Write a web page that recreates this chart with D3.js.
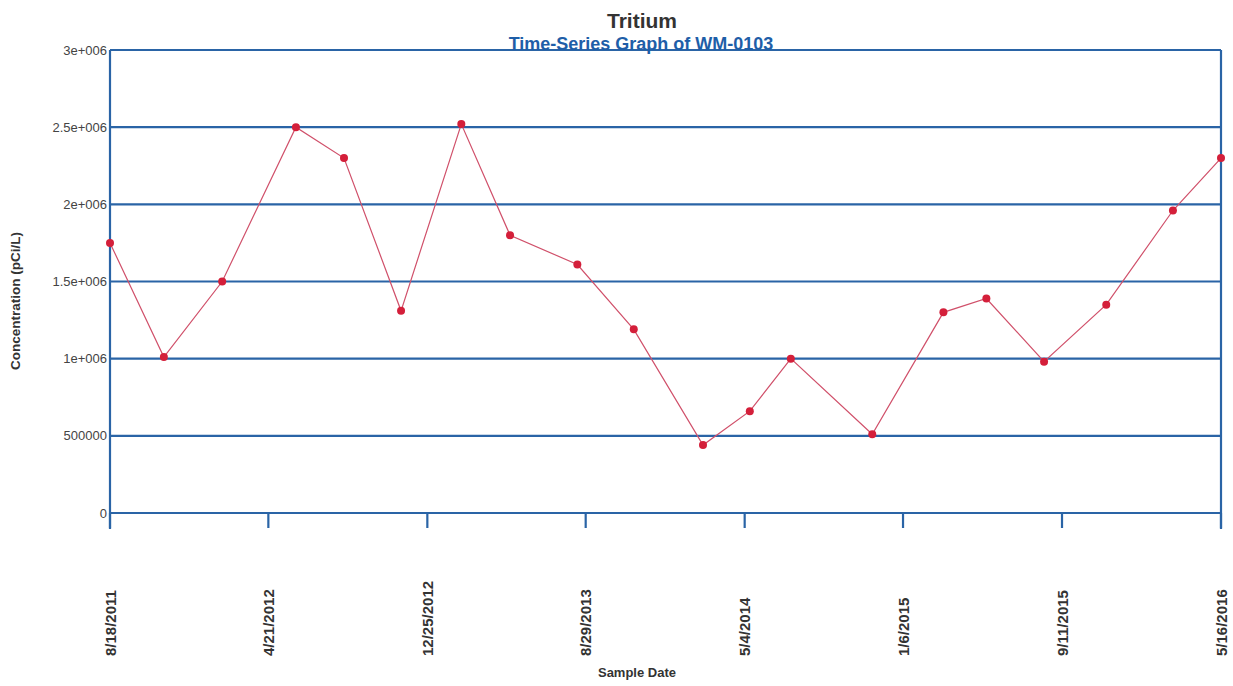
<!DOCTYPE html>
<html>
<head>
<meta charset="utf-8">
<script src="https://cdn.jsdelivr.net/npm/d3@7"></script>
<style>
  html, body { margin: 0; padding: 0; background: #fff; }
  svg { display: block; font-family: "Liberation Sans", Arial, sans-serif; }
</style>
</head>
<body>
<svg id="chart" width="1233" height="686"></svg>
<script>
// ---- data ----
const sampleDates = [
  "2011-08-18", "2011-11-10", "2012-02-09", "2012-06-03", "2012-08-17",
  "2012-11-14", "2013-02-16", "2013-05-03", "2013-08-16", "2013-11-12",
  "2014-02-28", "2014-05-12", "2014-07-15", "2014-11-19", "2015-03-10",
  "2015-05-16", "2015-08-14", "2015-11-19", "2016-03-02", "2016-05-16"
];
const tritiumValues = [
  1750000, 1010000, 1500000, 2500000, 2300000,
  1310000, 2520000, 1800000, 1610000, 1190000,
  440000, 660000, 1000000, 510000, 1300000,
  1390000, 980000, 1350000, 1960000, 2300000
];
const xTickDates = [
  "2011-08-18", "2012-04-21", "2012-12-25", "2013-08-29",
  "2014-05-04", "2015-01-06", "2015-09-11", "2016-05-16"
];
const xTickLabels = [
  "8/18/2011", "4/21/2012", "12/25/2012", "8/29/2013",
  "5/4/2014", "1/6/2015", "9/11/2015", "5/16/2016"
];
const yTickValues = [0, 500000, 1000000, 1500000, 2000000, 2500000, 3000000];
const yTickLabels = ["0", "500000", "1e+006", "1.5e+006", "2e+006", "2.5e+006", "3e+006"];

// ---- layout ----
const parse = d3.utcParse("%Y-%m-%d");
const plotLeft = 110, plotRight = 1221, plotTop = 50, plotBottom = 513;
const blue = "#2a64a6";

const svg = d3.select("#chart");

const x = d3.scaleUtc()
  .domain([parse(xTickDates[0]), parse(xTickDates[xTickDates.length - 1])])
  .range([plotLeft, plotRight]);
const y = d3.scaleLinear().domain([0, 3000000]).range([plotBottom, plotTop]);

// gridlines
svg.append("g").selectAll("line")
  .data(yTickValues)
  .join("line")
  .attr("x1", plotLeft).attr("x2", plotRight)
  .attr("y1", d => y(d)).attr("y2", d => y(d))
  .attr("stroke", blue).attr("stroke-width", 2.2);

// frame left / right
svg.append("line").attr("x1", plotLeft).attr("x2", plotLeft).attr("y1", plotTop).attr("y2", plotBottom + 16)
  .attr("stroke", blue).attr("stroke-width", 2.2);
svg.append("line").attr("x1", plotRight).attr("x2", plotRight).attr("y1", plotTop).attr("y2", plotBottom + 16)
  .attr("stroke", blue).attr("stroke-width", 2.2);

// y tick labels
svg.append("g").selectAll("text")
  .data(yTickValues)
  .join("text")
  .attr("x", plotLeft - 3)
  .attr("y", d => y(d))
  .attr("dy", "0.35em")
  .attr("text-anchor", "end")
  .attr("font-size", 13)
  .attr("fill", "#444")
  .text((d, i) => yTickLabels[i]);

// x ticks
const xt = svg.append("g").selectAll("g")
  .data(xTickDates)
  .join("g")
  .attr("transform", d => `translate(${x(parse(d))},0)`);
xt.append("line")
  .attr("y1", plotBottom).attr("y2", plotBottom + 15)
  .attr("stroke", blue).attr("stroke-width", 2.2);
xt.append("text")
  .attr("transform", `translate(5.5,${plotBottom + 143}) rotate(-90)`)
  .attr("text-anchor", "start")
  .attr("font-size", 15)
  .attr("font-weight", "bold")
  .attr("fill", "#333")
  .text((d, i) => xTickLabels[i]);

// data line
const pts = sampleDates.map((d, i) => ({ date: parse(d), value: tritiumValues[i] }));
const line = d3.line().x(d => x(d.date)).y(d => y(d.value));
svg.append("path")
  .datum(pts)
  .attr("d", line)
  .attr("fill", "none")
  .attr("stroke", "#d0506a")
  .attr("stroke-width", 1.2);
svg.append("g").selectAll("circle")
  .data(pts)
  .join("circle")
  .attr("cx", d => x(d.date))
  .attr("cy", d => y(d.value))
  .attr("r", 4)
  .attr("fill", "#d41f3a");

// titles
svg.append("text").attr("x", 642).attr("y", 28).attr("text-anchor", "middle")
  .attr("font-size", 21).attr("font-weight", "bold").attr("fill", "#333").text("Tritium");
svg.append("text").attr("x", 641).attr("y", 50).attr("text-anchor", "middle")
  .attr("font-size", 18).attr("font-weight", "bold").attr("fill", "#1e5ea8")
  .text("Time-Series Graph of WM-0103");
svg.append("text")
  .attr("transform", "translate(20,301) rotate(-90)")
  .attr("text-anchor", "middle")
  .attr("font-size", 13.5).attr("font-weight", "bold").attr("fill", "#333")
  .text("Concentration (pCi/L)");
svg.append("text").attr("x", 637).attr("y", 677).attr("text-anchor", "middle")
  .attr("font-size", 13).attr("font-weight", "bold").attr("fill", "#333")
  .text("Sample Date");
</script>
</body>
</html>
